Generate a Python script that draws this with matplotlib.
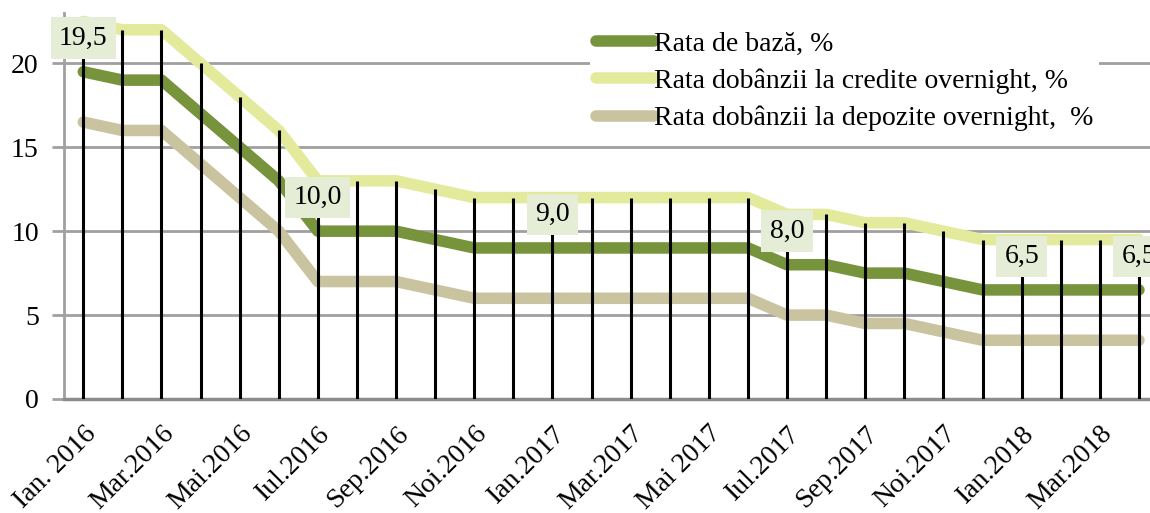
import matplotlib
matplotlib.use("Agg")
import matplotlib.pyplot as plt
from matplotlib.lines import Line2D

months = ["Ian. 2016", "Feb.2016", "Mar.2016", "Apr.2016", "Mai.2016", "Iun.2016",
          "Iul.2016", "Aug.2016", "Sep.2016", "Oct.2016", "Noi.2016", "Dec.2016",
          "Ian.2017", "Feb.2017", "Mar.2017", "Apr.2017", "Mai 2017", "Iun.2017",
          "Iul.2017", "Aug.2017", "Sep.2017", "Oct.2017", "Noi.2017", "Dec.2017",
          "Ian.2018", "Feb.2018", "Mar.2018", "Apr.2018"]
rata_baza = [19.5, 19, 19, 17, 15, 13, 10, 10, 10, 9.5, 9, 9, 9, 9, 9, 9, 9, 9,
             8, 8, 7.5, 7.5, 7, 6.5, 6.5, 6.5, 6.5, 6.5]
rata_credite = [22.5, 22, 22, 20, 18, 16, 13, 13, 13, 12.5, 12, 12, 12, 12, 12, 12, 12, 12,
                11, 11, 10.5, 10.5, 10, 9.5, 9.5, 9.5, 9.5, 9.5]
rata_depozite = [16.5, 16, 16, 14, 12, 10, 7, 7, 7, 6.5, 6, 6, 6, 6, 6, 6, 6, 6,
                 5, 5, 4.5, 4.5, 4, 3.5, 3.5, 3.5, 3.5, 3.5]
label_idx = [0, 6, 12, 18, 24, 27]
series_names = ["Rata de bază, %", "Rata dobânzii la credite overnight, %",
                "Rata dobânzii la depozite overnight,  %"]

FONT = "Liberation Serif"
plt.rcParams["font.family"] = [FONT, "DejaVu Serif"]
FS = 20

W, H = 1150, 513
fig = plt.figure(figsize=(W / 100, H / 100), dpi=100)
x0, x1 = 63.75, 1158.5
ytop, ybot = 13, 399
ax = fig.add_axes([x0 / W, 1 - ybot / H, (x1 - x0) / W, (ybot - ytop) / H])

x = list(range(len(months)))
c_green = "#77933C"
c_yellow = "#E3EA9C"
c_beige = "#C9C3A0"
lw = 8.3

ax.plot(x, rata_baza, color=c_green, lw=lw, solid_capstyle="round",
        solid_joinstyle="round", zorder=3)
ax.plot(x, rata_credite, color=c_yellow, lw=lw, solid_capstyle="round",
        solid_joinstyle="round", zorder=3)
ax.plot(x, rata_depozite, color=c_beige, lw=lw, solid_capstyle="round",
        solid_joinstyle="round", zorder=3)

ax.vlines(x, 0, rata_credite, color="black", lw=2.2, zorder=4)

for i in label_idx:
    ax.text(i, rata_baza[i] + 2.0, f"{rata_baza[i]:.1f}".replace(".", ","),
            ha="center", va="center", fontsize=FS, family=FONT, zorder=6,
            bbox=dict(boxstyle="square,pad=0.3", facecolor="#E6EDD6",
                      edgecolor="none"))

ax.set_xlim(-0.5, 27.5)
ax.set_ylim(0, 23)
ax.set_yticks([0, 5, 10, 15, 20])
ax.set_yticklabels(["0", "5", "10", "15", "20"], fontsize=FS)
ax.yaxis.grid(True, color="#A0A0A0", lw=2, zorder=0)
ax.set_axisbelow(True)
ax.tick_params(axis="y", length=9, width=2, color="#A0A0A0", pad=9)
ax.set_xticks(x[::2])
ax.set_xticklabels(months[::2], rotation=45, ha="right", rotation_mode="anchor",
                   fontsize=FS)
ax.tick_params(axis="x", length=0, pad=16)
for s in ["top", "right"]:
    ax.spines[s].set_visible(False)
ax.spines["left"].set_color("#A0A0A0")
ax.spines["left"].set_linewidth(2)
ax.spines["bottom"].set_color("#8C8C8C")
ax.spines["bottom"].set_linewidth(2.5)

handles = [Line2D([], [], color=c, lw=lw, solid_capstyle="round")
           for c in (c_green, c_yellow, c_beige)]
leg = ax.legend(handles, series_names, loc="upper left",
                bbox_to_anchor=(590 / W, 1 - 26 / H), bbox_transform=fig.transFigure,
                frameon=True, fancybox=False, framealpha=1, facecolor="white",
                edgecolor="none", fontsize=FS, handlelength=2.1, handletextpad=0.0,
                labelspacing=0.42, borderpad=0.2, borderaxespad=0)
leg.set_zorder(5)

fig.savefig("out.png", dpi=100)
